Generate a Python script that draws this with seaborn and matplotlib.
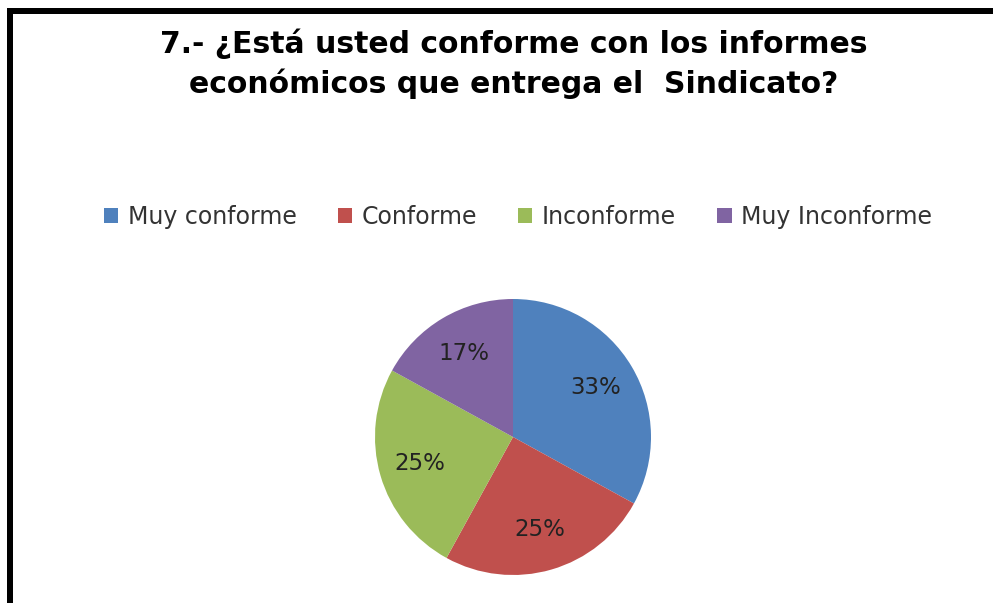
import matplotlib
matplotlib.use("Agg")
import matplotlib.pyplot as plt
from matplotlib.patches import Patch
from matplotlib.lines import Line2D
import seaborn as sns

# Survey answers and their share of respondents (%)
categories = ["Muy conforme", "Conforme", "Inconforme", "Muy Inconforme"]
percentages = [33, 25, 25, 17]
colors = ["#4F81BD", "#C0504D", "#9BBB59", "#8064A2"]
title_lines = ["7.- ¿Está usted conforme con los informes",
               "económicos que entrega el  Sindicato?"]

sns.set_theme(style="white")
plt.rcParams["font.family"] = ["DejaVu Sans"]

W, H = 993, 603
fig = plt.figure(figsize=(W / 100, H / 100), dpi=100)
fig.patch.set_facecolor("white")

# Pie axes: centre (513, 437) px, radius 138 px
cx, cy, r = 513, 437, 138
ax = fig.add_axes([(cx - r) / W, (H - cy - r) / H, 2 * r / W, 2 * r / H])
wedges, texts, autotexts = ax.pie(
    percentages,
    colors=colors,
    startangle=90,
    counterclock=False,
    autopct=lambda p: f"{p:.0f}%",
    pctdistance=0.7,
    wedgeprops=dict(linewidth=0),
    textprops=dict(fontsize=16.5, color="#222222"),
)
ax.set_xlim(-1, 1)
ax.set_ylim(-1, 1)
ax.set_aspect("equal")
ax.axis("off")

# Two-line heading, each line on its own baseline
for line, base in zip(title_lines, [53, 93]):
    fig.text(514 / W, 1 - base / H, line, ha="center", va="baseline",
             fontsize=21.5, fontweight="bold", family="DejaVu Sans",
             color="#000000")

# Legend across the top
handles = [Patch(facecolor=c, edgecolor="none") for c in colors]
fig.legend(handles, categories, loc="center", ncol=4,
           bbox_to_anchor=(518 / W, 1 - 217 / H), frameon=False,
           fontsize=17, handlelength=0.6, handleheight=0.6,
           handletextpad=0.4, columnspacing=1.75,
           labelcolor="#333333")

# Frame lines along the left and top edges
lw = 6 * 72 / 100
fig.add_artist(Line2D([10 / W, 10 / W], [0, 1 - 8 / H], color="black",
                      linewidth=lw, transform=fig.transFigure,
                      solid_capstyle="butt"))
fig.add_artist(Line2D([7 / W, 1], [1 - 11 / H, 1 - 11 / H], color="black",
                      linewidth=lw, transform=fig.transFigure,
                      solid_capstyle="butt"))

fig.savefig("out.png", dpi=100, facecolor="white")
